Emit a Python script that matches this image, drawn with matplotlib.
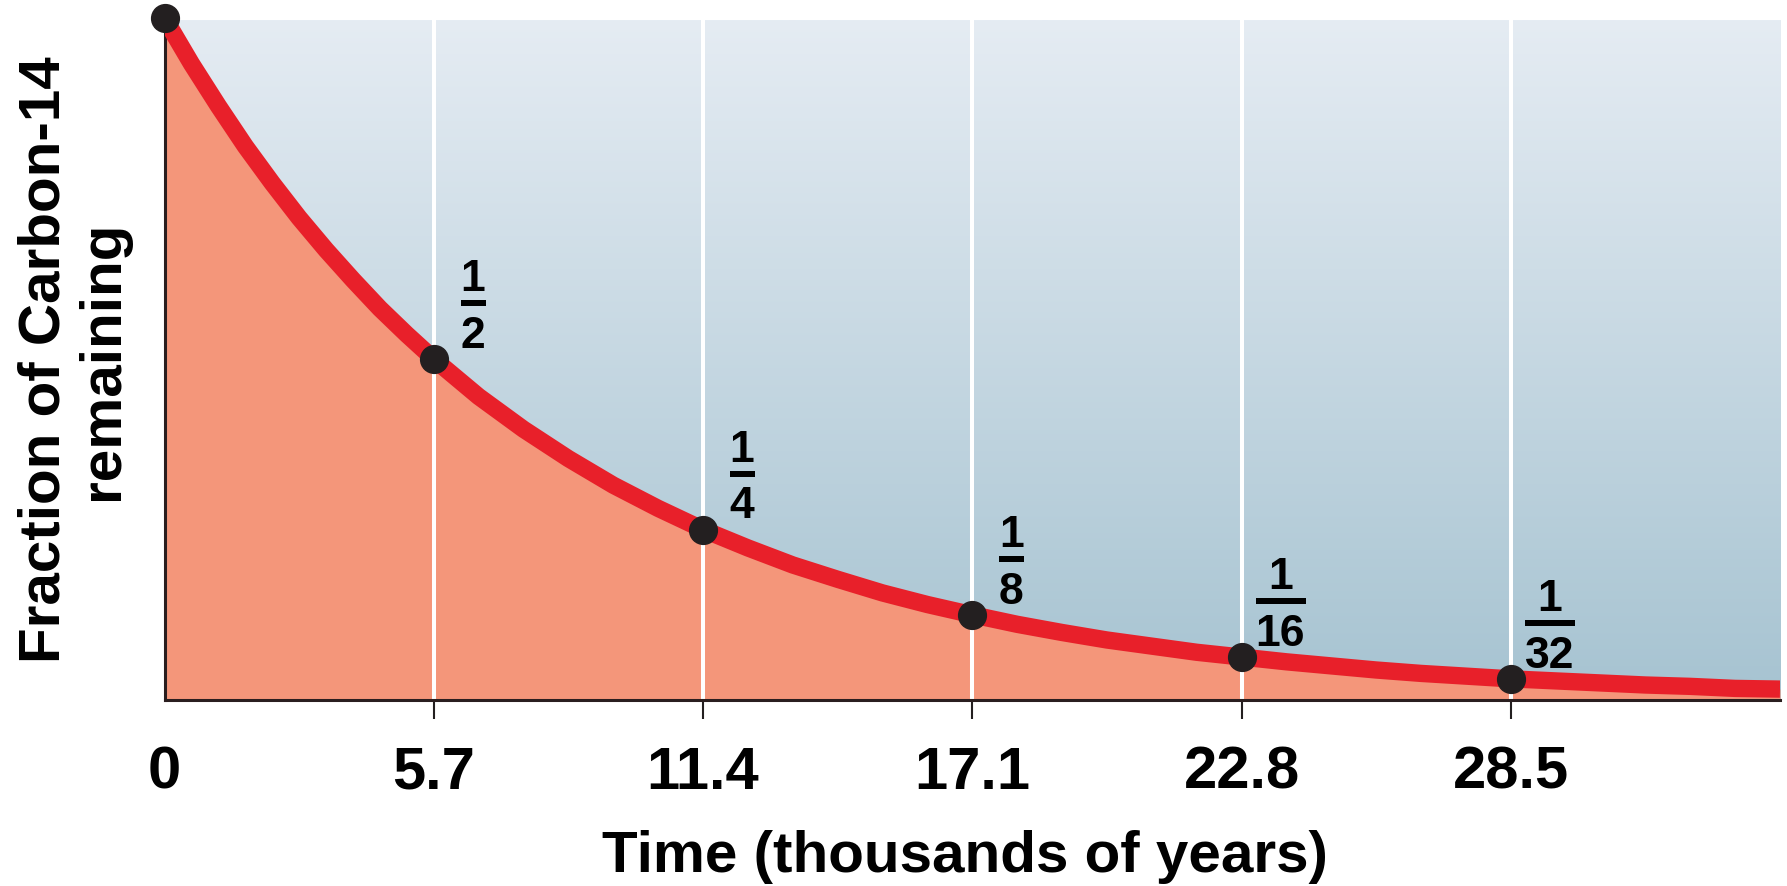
import numpy as np
import matplotlib
matplotlib.use('Agg')
import matplotlib.pyplot as plt
from matplotlib import transforms
from matplotlib.colors import LinearSegmentedColormap

plt.rcParams['font.family'] = ['Liberation Sans', 'DejaVu Sans']
plt.rcParams['font.weight'] = 'bold'

# curve (time in thousands of years, fraction remaining)
curve_t = [0, 0.57, 1.14, 1.71, 2.28, 2.85, 3.42, 3.99, 4.56, 5.13, 5.7,
           6.65, 7.6, 8.55, 9.5, 10.45, 11.4, 12.35, 13.3, 14.25, 15.2, 16.15,
           17.1, 18.05, 19.0, 19.95, 20.9, 21.85, 22.8, 23.75, 24.7, 25.65,
           26.6, 27.55, 28.5, 29.45, 30.4, 31.35, 32.3, 33.25, 34.2]
curve_v = [1.000, 0.933, 0.871, 0.812, 0.758, 0.707, 0.660, 0.616, 0.574, 0.536, 0.500,
           0.445, 0.397, 0.354, 0.315, 0.281, 0.250, 0.223, 0.198, 0.177, 0.157, 0.140,
           0.125, 0.111, 0.099, 0.088, 0.079, 0.070, 0.063, 0.056, 0.050, 0.044,
           0.039, 0.035, 0.031, 0.028, 0.025, 0.022, 0.020, 0.017, 0.016]

# half-life points
half_t = [0, 5.7, 11.4, 17.1, 22.8, 28.5]
half_v = [1, 1/2, 1/4, 1/8, 1/16, 1/32]
frac_num = ['', '1', '1', '1', '1', '1']
frac_den = ['', '2', '4', '8', '16', '32']
tick_labels = ['0', '5.7', '11.4', '17.1', '22.8', '28.5']

RED = '#E8202A'
SALMON = '#F4967A'
DARK = '#231F20'

W, H = 1787, 886
fig = plt.figure(figsize=(W/100, H/100), dpi=100)
ax = fig.add_axes([164.5/W, 1-700/H, (1780-164.5)/W, (700-18)/H])
xmax = curve_t[-1]
ax.set_xlim(0, xmax)
ax.set_ylim(0, 1)

# background gradient
cmap = LinearSegmentedColormap.from_list('bg', ['#A6C3D1', '#E5ECF3'])
grad = np.linspace(0, 1, 256).reshape(-1, 1)
ax.imshow(grad, extent=[0, xmax, 0, 0.997], origin='lower', aspect='auto',
          cmap=cmap, zorder=0)

ax.fill_between(curve_t, curve_v, 0, color=SALMON, lw=0, zorder=1)
for t in half_t[1:]:
    ax.axvline(t, color='white', lw=2.9, zorder=1.5)
ax.plot(curve_t, curve_v, color=RED, lw=12.5, solid_capstyle='butt',
        solid_joinstyle='round', zorder=3)
ax.plot(half_t, half_v, 'o', color=DARK, ms=20, zorder=4, clip_on=False)

# fraction labels beside each point
px = 100/72
dx, dy_num, dy_bar, dy_den = 39, 84, 56, 27
for t, v, n, d in zip(half_t, half_v, frac_num, frac_den):
    if not n:
        continue
    ax.annotate(n, (t, v), xytext=(dx, dy_num), textcoords='offset pixels',
                ha='center', va='center_baseline', fontsize=32,
                fontweight='bold', zorder=5)
    ax.annotate(d, (t, v), xytext=(dx, dy_den), textcoords='offset pixels',
                ha='center', va='center_baseline', fontsize=32,
                fontweight='bold', zorder=5)
    tr = transforms.offset_copy(ax.transData, fig=fig, x=dx, y=dy_bar, units='dots')
    ax.plot(t, v, marker='_', ms=25*len(d)/px, mew=6/px, color='black',
            transform=tr, zorder=5, clip_on=False)

for s in ['top', 'right']:
    ax.spines[s].set_visible(False)
for s in ['left', 'bottom']:
    ax.spines[s].set_color('#2A1E1F')
    ax.spines[s].set_linewidth(2.2)
    ax.spines[s].set_zorder(2)

ax.set_yticks([])
ax.set_xticks(half_t)
ax.set_xticklabels(tick_labels, fontsize=43, fontweight='bold')
ax.tick_params(axis='x', length=14, width=1.5, color=DARK, pad=19)
ax.xaxis.get_major_ticks()[0].tick1line.set_visible(False)

fig.text(965/W, 14/H, 'Time (thousands of years)', ha='center', va='baseline',
         fontsize=42, fontweight='bold')
fig.text(74/W, 1-360/H, 'Fraction of Carbon-14\nremaining', ha='center',
         va='center', rotation=90, multialignment='center', fontsize=42,
         fontweight='bold', linespacing=1.1)

fig.savefig('out.png', dpi=100)
